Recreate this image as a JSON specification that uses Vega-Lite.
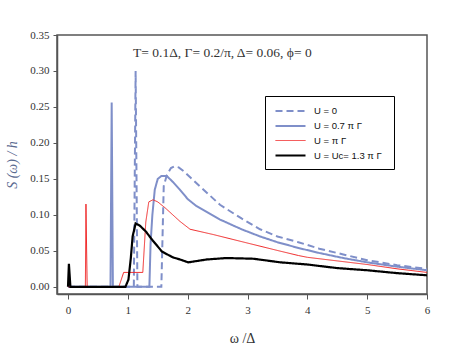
{
  "$schema": "https://vega.github.io/schema/vega-lite/v6.json",
  "autosize": {"type": "none"},
  "padding": {"left": 57, "top": 35, "right": 36, "bottom": 51},
  "width": 370,
  "height": 259,
  "background": "white",
  "config": {
    "view": {"stroke": "#555555", "strokeWidth": 1.5},
    "axis": {"grid": false, "domainColor": "#555555", "domainWidth": 1.5, "tickColor": "#555555", "labelFont": "Liberation Serif", "labelFontSize": 11, "labelColor": "#333333", "titleFont": "Liberation Serif", "titleFontWeight": "normal", "labelOverlap": false, "labelFlush": false}
  },
  "datasets": {
    "curves": [
      {"s": "U = 0", "x": 0, "y": 0},
      {"s": "U = 0", "x": 1.10, "y": 0},
      {"s": "U = 0", "x": 1.13, "y": 0.30},
      {"s": "U = 0", "x": 1.16, "y": 0},
      {"s": "U = 0", "x": 1.56, "y": 0},
      {"s": "U = 0", "x": 1.60, "y": 0.14},
      {"s": "U = 0", "x": 1.65, "y": 0.155},
      {"s": "U = 0", "x": 1.72, "y": 0.165},
      {"s": "U = 0", "x": 1.78, "y": 0.1675},
      {"s": "U = 0", "x": 1.85, "y": 0.166},
      {"s": "U = 0", "x": 1.93, "y": 0.161},
      {"s": "U = 0", "x": 2.2, "y": 0.140},
      {"s": "U = 0", "x": 2.54, "y": 0.114},
      {"s": "U = 0", "x": 2.9, "y": 0.095},
      {"s": "U = 0", "x": 3.21, "y": 0.080},
      {"s": "U = 0", "x": 3.5, "y": 0.070},
      {"s": "U = 0", "x": 3.85, "y": 0.062},
      {"s": "U = 0", "x": 4.2, "y": 0.053},
      {"s": "U = 0", "x": 4.6, "y": 0.045},
      {"s": "U = 0", "x": 5.0, "y": 0.037},
      {"s": "U = 0", "x": 5.5, "y": 0.030},
      {"s": "U = 0", "x": 6.0, "y": 0.025},

      {"s": "U = 0.7 π Γ", "x": 0, "y": 0},
      {"s": "U = 0.7 π Γ", "x": 0.71, "y": 0},
      {"s": "U = 0.7 π Γ", "x": 0.73, "y": 0.256},
      {"s": "U = 0.7 π Γ", "x": 0.75, "y": 0},
      {"s": "U = 0.7 π Γ", "x": 1.36, "y": 0},
      {"s": "U = 0.7 π Γ", "x": 1.38, "y": 0.06},
      {"s": "U = 0.7 π Γ", "x": 1.41, "y": 0.10},
      {"s": "U = 0.7 π Γ", "x": 1.45, "y": 0.135},
      {"s": "U = 0.7 π Γ", "x": 1.50, "y": 0.150},
      {"s": "U = 0.7 π Γ", "x": 1.56, "y": 0.154},
      {"s": "U = 0.7 π Γ", "x": 1.65, "y": 0.154},
      {"s": "U = 0.7 π Γ", "x": 1.75, "y": 0.146},
      {"s": "U = 0.7 π Γ", "x": 1.87, "y": 0.135},
      {"s": "U = 0.7 π Γ", "x": 2.0, "y": 0.122},
      {"s": "U = 0.7 π Γ", "x": 2.15, "y": 0.112},
      {"s": "U = 0.7 π Γ", "x": 2.54, "y": 0.0935},
      {"s": "U = 0.7 π Γ", "x": 2.9, "y": 0.080},
      {"s": "U = 0.7 π Γ", "x": 3.21, "y": 0.070},
      {"s": "U = 0.7 π Γ", "x": 3.5, "y": 0.062},
      {"s": "U = 0.7 π Γ", "x": 3.85, "y": 0.054},
      {"s": "U = 0.7 π Γ", "x": 4.2, "y": 0.047},
      {"s": "U = 0.7 π Γ", "x": 4.6, "y": 0.040},
      {"s": "U = 0.7 π Γ", "x": 5.0, "y": 0.034},
      {"s": "U = 0.7 π Γ", "x": 5.5, "y": 0.028},
      {"s": "U = 0.7 π Γ", "x": 6.0, "y": 0.023},

      {"s": "U = π Γ", "x": 0, "y": 0},
      {"s": "U = π Γ", "x": 0.29, "y": 0},
      {"s": "U = π Γ", "x": 0.30, "y": 0.115},
      {"s": "U = π Γ", "x": 0.32, "y": 0},
      {"s": "U = π Γ", "x": 0.85, "y": 0},
      {"s": "U = π Γ", "x": 0.93, "y": 0.02},
      {"s": "U = π Γ", "x": 1.25, "y": 0.02},
      {"s": "U = π Γ", "x": 1.30, "y": 0.09},
      {"s": "U = π Γ", "x": 1.35, "y": 0.118},
      {"s": "U = π Γ", "x": 1.42, "y": 0.121},
      {"s": "U = π Γ", "x": 1.5, "y": 0.118},
      {"s": "U = π Γ", "x": 1.62, "y": 0.110},
      {"s": "U = π Γ", "x": 1.87, "y": 0.091},
      {"s": "U = π Γ", "x": 2.04, "y": 0.080},
      {"s": "U = π Γ", "x": 2.43, "y": 0.0726},
      {"s": "U = π Γ", "x": 2.99, "y": 0.061},
      {"s": "U = π Γ", "x": 3.55, "y": 0.0495},
      {"s": "U = π Γ", "x": 3.85, "y": 0.0435},
      {"s": "U = π Γ", "x": 4.0, "y": 0.041},
      {"s": "U = π Γ", "x": 4.5, "y": 0.036},
      {"s": "U = π Γ", "x": 5.0, "y": 0.031},
      {"s": "U = π Γ", "x": 5.5, "y": 0.025},
      {"s": "U = π Γ", "x": 6.0, "y": 0.020},

      {"s": "U = Uc=  1.3 π Γ", "x": 0, "y": 0},
      {"s": "U = Uc=  1.3 π Γ", "x": 0.015, "y": 0.032},
      {"s": "U = Uc=  1.3 π Γ", "x": 0.04, "y": 0},
      {"s": "U = Uc=  1.3 π Γ", "x": 0.96, "y": 0},
      {"s": "U = Uc=  1.3 π Γ", "x": 1.01, "y": 0.01},
      {"s": "U = Uc=  1.3 π Γ", "x": 1.05, "y": 0.04},
      {"s": "U = Uc=  1.3 π Γ", "x": 1.08, "y": 0.07},
      {"s": "U = Uc=  1.3 π Γ", "x": 1.13, "y": 0.088},
      {"s": "U = Uc=  1.3 π Γ", "x": 1.2, "y": 0.085},
      {"s": "U = Uc=  1.3 π Γ", "x": 1.3, "y": 0.077},
      {"s": "U = Uc=  1.3 π Γ", "x": 1.4, "y": 0.066},
      {"s": "U = Uc=  1.3 π Γ", "x": 1.57, "y": 0.049},
      {"s": "U = Uc=  1.3 π Γ", "x": 1.75, "y": 0.041},
      {"s": "U = Uc=  1.3 π Γ", "x": 1.87, "y": 0.038},
      {"s": "U = Uc=  1.3 π Γ", "x": 2.01, "y": 0.034},
      {"s": "U = Uc=  1.3 π Γ", "x": 2.32, "y": 0.038},
      {"s": "U = Uc=  1.3 π Γ", "x": 2.65, "y": 0.040},
      {"s": "U = Uc=  1.3 π Γ", "x": 3.1, "y": 0.039},
      {"s": "U = Uc=  1.3 π Γ", "x": 3.55, "y": 0.034},
      {"s": "U = Uc=  1.3 π Γ", "x": 4.0, "y": 0.031},
      {"s": "U = Uc=  1.3 π Γ", "x": 4.5, "y": 0.026},
      {"s": "U = Uc=  1.3 π Γ", "x": 5.0, "y": 0.023},
      {"s": "U = Uc=  1.3 π Γ", "x": 5.5, "y": 0.019},
      {"s": "U = Uc=  1.3 π Γ", "x": 6.0, "y": 0.016}
    ],
    "note": [
      {"x": 2.58, "y": 0.325, "label": "T= 0.1Δ, Γ= 0.2/π, Δ= 0.06, ϕ= 0"}
    ]
  },
  "layer": [
    {
      "data": {"name": "curves"},
      "mark": {"type": "line", "clip": true},
      "encoding": {
        "x": {
          "field": "x", "type": "quantitative",
          "scale": {"domain": [-0.184, 6], "nice": false, "zero": false},
          "axis": {"values": [0, 1, 2, 3, 4, 5, 6], "tickCount": 20, "format": "d", "tickSize": 5, "labelPadding": 5, "labelOverlap": false, "title": "ω /Δ", "titleFontSize": 14, "titleColor": "#333333", "titlePadding": 16}
        },
        "y": {
          "field": "y", "type": "quantitative",
          "scale": {"domain": [-0.01, 0.35], "nice": false, "zero": false},
          "axis": {"values": [0, 0.05, 0.1, 0.15, 0.2, 0.25, 0.3, 0.35], "tickCount": 20, "format": ".2f", "tickSize": 4, "labelPadding": 4, "labelOverlap": false, "labelBound": false, "title": "S (ω) / h", "titleFontStyle": "italic", "titleFontSize": 14, "titleColor": "#5a6a90", "titlePadding": 10}
        },
        "color": {
          "field": "s", "type": "nominal",
          "scale": {"domain": ["U = 0", "U = 0.7 π Γ", "U = π Γ", "U = Uc=  1.3 π Γ"], "range": ["#7f8fc9", "#7f8fc9", "#f02828", "#000000"]},
          "legend": {
            "orient": "none", "legendX": 208, "legendY": 61, "title": null,
            "strokeColor": "#000000", "padding": 9, "fillColor": "white",
            "symbolType": "M-3,0H3", "symbolSize": 100,
            "labelFont": "Liberation Sans", "labelFontSize": 9.5, "labelColor": "#111111",
            "rowPadding": 4, "labelOffset": 17, "symbolOffset": 10
          }
        },
        "strokeDash": {
          "field": "s", "type": "nominal",
          "scale": {"domain": ["U = 0", "U = 0.7 π Γ", "U = π Γ", "U = Uc=  1.3 π Γ"], "range": [[7, 4], [1, 0], [1, 0], [1, 0]]}
        },
        "strokeWidth": {
          "field": "s", "type": "nominal",
          "scale": {"type": "ordinal", "domain": ["U = 0", "U = 0.7 π Γ", "U = π Γ", "U = Uc=  1.3 π Γ"], "range": [2, 2, 1, 2.2]}
        },
        "order": {"field": "x", "type": "quantitative"}
      }
    },
    {
      "data": {"name": "note"},
      "mark": {"type": "text", "font": "Liberation Serif", "fontSize": 13.5, "color": "#333333"},
      "encoding": {
        "x": {"field": "x", "type": "quantitative"},
        "y": {"field": "y", "type": "quantitative"},
        "text": {"field": "label"}
      }
    }
  ]
}
